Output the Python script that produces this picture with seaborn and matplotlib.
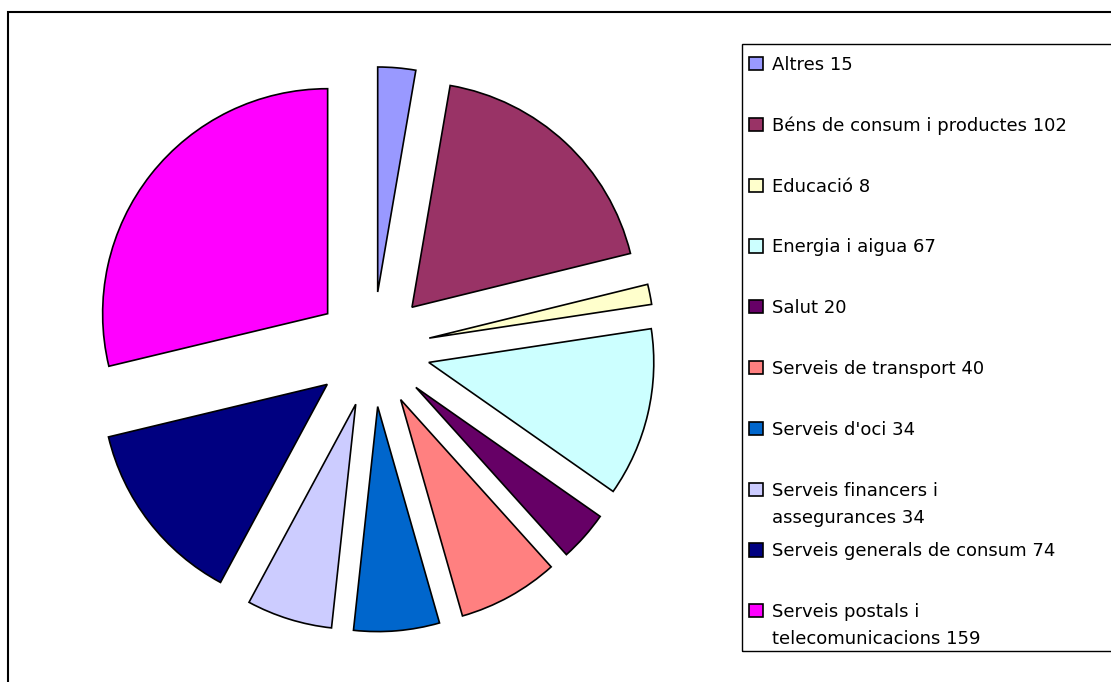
import seaborn as sns
import matplotlib.pyplot as plt
from matplotlib.patches import Rectangle

# Data
categories = ["Altres", "Béns de consum i productes", "Educació", "Energia i aigua",
              "Salut", "Serveis de transport", "Serveis d'oci",
              "Serveis financers i assegurances", "Serveis generals de consum",
              "Serveis postals i telecomunicacions"]
values = [15, 102, 8, 67, 20, 40, 34, 34, 74, 159]
# legend labels (first line, second line for wrapped entries)
label_first = ["Altres 15", "Béns de consum i productes 102", "Educació 8",
               "Energia i aigua 67", "Salut 20", "Serveis de transport 40",
               "Serveis d'oci 34", "Serveis financers i",
               "Serveis generals de consum 74", "Serveis postals i"]
label_second = [None, None, None, None, None, None, None,
                "assegurances 34", None, "telecomunicacions 159"]
colors = ["#9999FF", "#993366", "#FFFFCC", "#CCFFFF", "#660066",
          "#FF8080", "#0066CC", "#CCCCFF", "#000080", "#FF00FF"]

sns.set_theme(style="white")
plt.rcParams['font.family'] = ['DejaVu Sans']
palette = sns.color_palette(colors)

W, H = 1111, 682
fig = plt.figure(figsize=(W / 100, H / 100), dpi=100)
ax = fig.add_axes([0, 0, 1, 1])

# explode is in data units here (pixels), not a fraction of the radius
wedges, _ = ax.pie(values, colors=palette, explode=[57.5] * len(values),
                   startangle=90, counterclock=False, radius=225,
                   center=(372.8, H - 349.3),
                   wedgeprops=dict(edgecolor="black", linewidth=1.2))
ax.set_xlim(0, W)
ax.set_ylim(0, H)
ax.set_aspect("equal")
ax.axis("off")

# outer chart frame (runs off the right and bottom edges)
ax.add_patch(Rectangle((8, -20), W + 50, H - 12 + 20, fill=False,
                       edgecolor="black", linewidth=1.5, clip_on=True))
# legend frame
ax.add_patch(Rectangle((742, H - 651), W, 651 - 44, fill=False,
                       edgecolor="black", linewidth=1.0, clip_on=True))

leg = fig.legend(wedges, label_first, loc="upper left",
                 bbox_to_anchor=(749 / W, 1 - 55.5 / H), bbox_transform=fig.transFigure,
                 frameon=False, fontsize=13, borderpad=0, borderaxespad=0,
                 handlelength=0.75, handleheight=0.75, handletextpad=0.5,
                 labelspacing=2.37)
for t in leg.get_texts():
    t.set_color("black")

# second lines of the wrapped legend entries, placed under their first line
fig.canvas.draw()
for t, extra in zip(leg.get_texts(), label_second):
    if extra:
        bb = t.get_window_extent()
        fig.text(bb.x0, bb.y0 - 27, extra, transform=None, va="bottom", ha="left",
                 fontsize=13, color="black")

fig.savefig("out.png", dpi=100)
